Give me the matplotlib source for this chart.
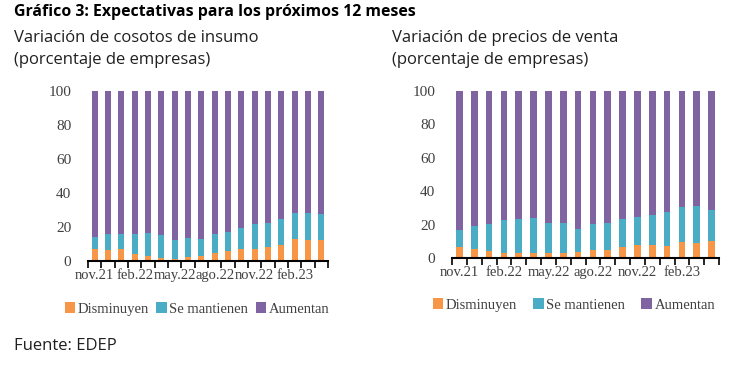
import matplotlib
matplotlib.use("Agg")
import matplotlib.pyplot as plt
import numpy as np

months = ["nov.21", "dic.21", "ene.22", "feb.22", "mar.22", "abr.22", "may.22", "jun.22",
          "jul.22", "ago.22", "sep.22", "oct.22", "nov.22", "dic.22", "ene.23", "feb.23",
          "mar.23", "abr.23"]
tick_labels = ["nov.21", "feb.22", "may.22", "ago.22", "nov.22", "feb.23"]

# Costos de insumo
cost_dis = [6.8, 6.7, 7.0, 3.9, 3.1, 2.0, 1.4, 2.2, 3.1, 4.7, 6.1, 7.0, 7.2, 8.2, 9.4, 12.7, 12.3, 12.3]
cost_dis_man = [14.1, 15.7, 15.9, 15.9, 16.2, 15.3, 12.3, 13.5, 12.7, 15.9, 17.0, 19.4, 21.5, 22.1, 25.0, 28.2, 28.0, 27.6]
# Precios de venta
price_dis = [6.6, 5.6, 4.4, 2.8, 3.2, 3.2, 2.8, 3.2, 3.8, 4.6, 4.8, 6.4, 7.6, 8.0, 7.4, 9.5, 9.1, 10.1]
price_dis_man = [16.7, 19.3, 20.5, 22.5, 23.5, 23.9, 20.9, 20.9, 17.3, 20.5, 21.1, 23.5, 24.7, 25.6, 27.6, 30.8, 31.0, 28.6]

series_names = ["Disminuyen", "Se mantienen", "Aumentan"]
colors = ["#F79646", "#4BACC6", "#8064A2"]

W, H = 747, 367
fig = plt.figure(figsize=(W / 100, H / 100), dpi=100)

serif = "Liberation Serif"
sans = "Open Sans"

def draw(ax_rect, dis, cum, leg_y, leg_x, colsp):
    ax = fig.add_axes(ax_rect)
    x = np.arange(len(months))
    d = np.array(dis)
    m = np.array(cum) - d
    a = 100 - np.array(cum)
    w = 0.45
    ax.bar(x, d, w, color=colors[0], label=series_names[0])
    ax.bar(x, m, w, bottom=d, color=colors[1], label=series_names[1])
    ax.bar(x, a, w, bottom=d + m, color=colors[2], label=series_names[2])
    ax.set_xlim(-0.5, len(months) - 0.5)
    ax.set_ylim(0, 100)
    ax.set_yticks([0, 20, 40, 60, 80, 100])
    for s in ["top", "right", "left"]:
        ax.spines[s].set_visible(False)
    ax.spines["bottom"].set_color("black")
    ax.spines["bottom"].set_linewidth(1.5)
    ax.tick_params(axis="y", length=0, labelsize=11, labelcolor="#404040", pad=12)
    for lab in ax.get_yticklabels():
        lab.set_fontfamily(serif)
    ax.set_xticks(np.arange(len(months) + 1) - 0.5, minor=True)
    ax.set_xticks([months.index(t) for t in tick_labels])
    ax.set_xticklabels(tick_labels, fontfamily=serif, fontsize=10.5, color="#404040")
    ax.tick_params(axis="x", which="major", length=0, pad=6)
    ax.tick_params(axis="x", which="minor", length=5, width=1.2, direction="out", color="black")
    handles, labels = ax.get_legend_handles_labels()
    fig.legend(handles, labels, loc="center", bbox_to_anchor=(leg_x / W, 1 - leg_y / H),
               ncol=3, frameon=False, prop={"family": serif, "size": 10.5},
               handlelength=0.7, handleheight=0.7, handletextpad=0.2, columnspacing=colsp,
               labelcolor="#404040")
    return ax

draw([88 / W, 1 - 261 / H, 240 / W, 170 / H], cost_dis, cost_dis_man, 309, 197, 0.5)
draw([452 / W, 1 - 258 / H, 267 / W, 167 / H], price_dis, price_dis_man, 305, 574, 1.1)

fig.text(14 / W, 1 - 12 / H, "Gráfico 3: Expectativas para los próximos 12 meses",
         fontfamily=sans, fontweight="bold", fontsize=11.4, va="center", ha="left")
fig.text(14 / W, 1 - 38 / H, "Variación de cosotos de insumo", fontfamily=sans,
         fontsize=12, va="center", ha="left", color="#202020")
fig.text(14 / W, 1 - 60 / H, "(porcentaje de empresas)", fontfamily=sans,
         fontsize=12, va="center", ha="left", color="#202020")
fig.text(392 / W, 1 - 38 / H, "Variación de precios de venta", fontfamily=sans,
         fontsize=12, va="center", ha="left", color="#202020")
fig.text(392 / W, 1 - 60 / H, "(porcentaje de empresas)", fontfamily=sans,
         fontsize=12, va="center", ha="left", color="#202020")
fig.text(14 / W, 1 - 346 / H, "Fuente: EDEP", fontfamily=sans,
         fontsize=12, va="center", ha="left", color="#202020")

fig.savefig("out.png", dpi=100)
